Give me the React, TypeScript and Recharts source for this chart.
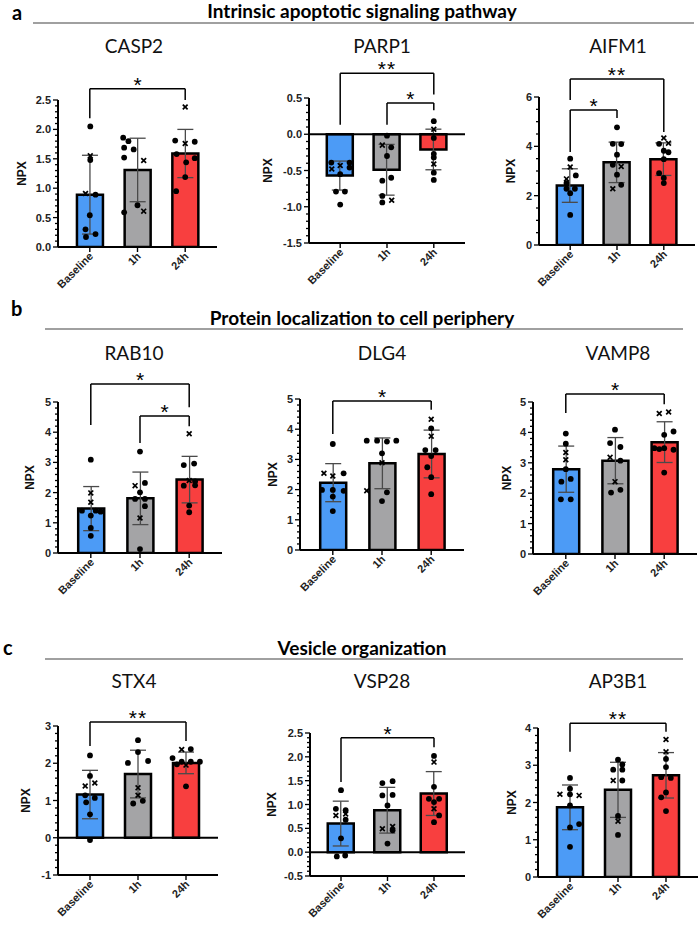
import React from 'react';
import { ComposedChart, Bar, Cell, ErrorBar, Scatter, XAxis, YAxis, ReferenceLine } from 'recharts';

const groups = ['Baseline', '1h', '24h'];
const groupColors = ['#4c9bf6', '#a4a4a6', '#f83f3f'];

const sectionLetters = ['a', 'b', 'c'];
const sectionTitles = [
  'Intrinsic apoptotic signaling pathway',
  'Protein localization to cell periphery',
  'Vesicle organization',
];

// [group index, horizontal jitter, NPX]
type Pt = [number, number, number];
// [from group, to group, bracket level, left foot, right foot, stars]
type Sig = [number, number, number, number, number, string];

// CASP2
const casp2Mean = [0.89, 1.31, 1.59];
const casp2Sd = [0.67, 0.54, 0.41];
const casp2Dots: Pt[] = [
  [0, 0.01, 2.05], [0, 0.01, 1.48], [0, 0.12, 0.89], [0, 0, 0.54], [0, -0.09, 0.3], [0, 0.12, 0.22], [0, -0.08, 0.17],
  [1, -0.3, 1.86], [1, -0.19, 1.8], [1, -0.28, 1.69], [1, -0.08, 1.66], [1, -0.28, 1.52], [1, 0, 0.71], [1, -0.28, 0.59],
  [2, -0.21, 1.81], [2, 0.2, 1.79], [2, -0.18, 1.58], [2, 0.02, 1.44], [2, 0.2, 1.51], [2, 0, 1.19], [2, -0.19, 0.95],
];
const casp2Crosses: Pt[] = [
  [0, 0.01, 1.55], [0, -0.09, 0.91], [1, 0.13, 1.47], [1, 0.13, 0.61], [2, 0, 2.38], [2, 0, 1.76],
];
const casp2Sig: Sig[] = [[0, 2, 2.69, 2.19, 2.5, '*']];

// PARP1
const parp1Mean = [-0.57, -0.49, -0.21];
const parp1Sd = [0.2, 0.35, 0.28];
const parp1Dots: Pt[] = [
  [0, -0.19, -0.39], [0, 0.2, -0.39], [0, 0.2, -0.46], [0, 0, -0.55], [0, -0.09, -0.79], [0, 0.1, -0.79], [0, 0, -0.97],
  [1, 0, -0.02], [1, 0.09, -0.18], [1, 0, -0.3], [1, 0.09, -0.6], [1, -0.1, -0.64], [1, -0.1, -0.85], [1, -0.1, -0.94],
  [2, 0, 0.18], [2, 0, -0.05], [2, 0, -0.27], [2, 0, -0.32], [2, 0, -0.53], [2, 0, -0.63],
];
const parp1Crosses: Pt[] = [
  [0, -0.18, -0.48], [0, 0, -0.43], [1, -0.1, -0.15], [1, 0.1, -0.91], [2, 0, 0.07], [2, 0, -0.41],
];
const parp1Sig: Sig[] = [
  [0, 2, 0.84, 0.13, 0.55, '**'],
  [1, 2, 0.43, 0.13, 0.33, '*'],
];

// AIFM1
const aifm1Mean = [2.41, 3.35, 3.48];
const aifm1Sd = [0.68, 0.82, 0.66];
const aifm1Dots: Pt[] = [
  [0, 0, 3.5], [0, 0.12, 2.82], [0, -0.08, 2.51], [0, -0.08, 2.28], [0, 0.1, 2.28], [0, 0, 2.1], [0, 0, 1.22],
  [1, 0, 4.77], [1, 0.09, 4.09], [1, -0.09, 4.1], [1, 0, 3.66], [1, -0.09, 3.25], [1, 0, 2.85], [1, 0.09, 2.44],
  [2, -0.1, 4.1], [2, 0, 3.82], [2, 0.1, 3.76], [2, 0, 3.48], [2, -0.1, 2.91], [2, 0, 2.72], [2, 0, 2.51],
];
const aifm1Crosses: Pt[] = [
  [0, 0, 3.16], [0, -0.08, 2.68], [1, 0.09, 3.18], [1, -0.09, 2.28], [2, 0, 4.34], [2, 0.1, 4.13],
];
const aifm1Sig: Sig[] = [
  [0, 2, 6.73, 5.88, 4.58, '**'],
  [0, 1, 5.47, 3.77, 5.15, '*'],
];

// RAB10
const rab10Mean = [1.47, 1.81, 2.43];
const rab10Sd = [0.73, 0.87, 0.77];
const rab10Dots: Pt[] = [
  [0, 0, 3.09], [0, -0.18, 1.4], [0, 0.1, 1.4], [0, 0.2, 1.37], [0, 0, 1.24], [0, 0, 0.83], [0, 0, 0.57],
  [1, 0, 3.36], [1, 0.1, 2.32], [1, 0, 2.01], [1, -0.1, 1.79], [1, 0.1, 1.79], [1, 0.1, 1.55], [1, 0, 0.13],
  [2, -0.11, 2.91], [2, 0.1, 2.96], [2, -0.11, 2.23], [2, 0.12, 2.37], [2, 0.12, 2.24], [2, 0, 1.57], [2, 0, 1.35],
];
const rab10Crosses: Pt[] = [
  [0, 0, 1.99], [0, 0, 1.68], [1, -0.1, 2.23], [1, 0, 1.16], [2, 0, 3.95], [2, 0, 2.4],
];
const rab10Sig: Sig[] = [
  [0, 2, 5.6, 4.24, 4.83, '*'],
  [1, 2, 4.54, 3.64, 4.2, '*'],
];

// DLG4
const dlg4Mean = [2.23, 2.87, 3.18];
const dlg4Sd = [0.63, 0.84, 0.79];
const dlg4Dots: Pt[] = [
  [0, 0, 3.51], [0, 0.22, 2.54], [0, -0.22, 1.99], [0, 0, 1.99], [0, 0.22, 1.96], [0, 0, 1.77], [0, 0, 1.29],
  [1, -0.31, 3.62], [1, -0.1, 3.62], [1, 0.1, 3.59], [1, 0.29, 3.62], [1, 0, 3.2], [1, 0.1, 1.91], [1, 0, 1.62],
  [2, 0, 4.03], [2, -0.12, 3.31], [2, 0.09, 3.31], [2, 0, 3.11], [2, -0.08, 2.74], [2, 0, 2.41], [2, 0, 1.85],
];
const dlg4Crosses: Pt[] = [
  [0, -0.18, 2.54], [0, 0, 2.45], [1, -0.31, 1.96], [1, 0, 2.89], [2, 0, 4.33], [2, 0, 3.77],
];
const dlg4Sig: Sig[] = [[0, 2, 4.93, 3.84, 4.64, '*']];

// VAMP8
const vamp8Mean = [2.79, 3.07, 3.68];
const vamp8Sd = [0.76, 0.76, 0.67];
const vamp8Dots: Pt[] = [
  [0, 0, 3.96], [0, 0, 3.63], [0, 0, 2.79], [0, 0.1, 2.47], [0, -0.09, 2.38], [0, -0.1, 1.8], [0, 0.1, 1.8],
  [1, 0, 4.09], [1, -0.1, 3.65], [1, 0.11, 3.52], [1, 0.11, 3.07], [1, -0.08, 2.02], [1, 0.11, 2.11],
  [2, 0, 3.92], [2, 0.19, 4.03], [2, -0.2, 3.48], [2, 0, 3.48], [2, 0.19, 3.43], [2, -0.1, 3.45], [2, 0, 2.68],
];
const vamp8Crosses: Pt[] = [
  [0, 0, 3.34], [0, 0, 3.1], [1, -0.1, 3.18], [1, 0, 2.38], [2, -0.1, 4.62], [2, 0.09, 4.67],
];
const vamp8Sig: Sig[] = [[0, 2, 5.26, 4.64, 4.93, '*']];

// STX4
const stx4Mean = [1.16, 1.71, 2.01];
const stx4Sd = [0.65, 0.64, 0.29];
const stx4Dots: Pt[] = [
  [0, 0, 2.21], [0, 0, 1.66], [0, -0.1, 1.14], [0, 0.1, 1.07], [0, -0.08, 0.95], [0, 0, 0.63], [0, 0, -0.06],
  [1, 0, 2.62], [1, 0, 2.3], [1, -0.21, 2.01], [1, 0.21, 2.06], [1, -0.1, 0.92], [1, 0.1, 0.99],
  [2, -0.28, 2.14], [2, 0.1, 2.38], [2, -0.09, 2.04], [2, 0.1, 2.04], [2, 0.29, 2.04], [2, -0.19, 1.97], [2, 0, 1.38],
];
const stx4Crosses: Pt[] = [
  [0, -0.1, 1.39], [0, 0.1, 1.47], [1, 0, 1.34], [1, 0, 1.14], [2, -0.09, 2.37], [2, 0, 1.95],
];
const stx4Sig: Sig[] = [[0, 2, 3.11, 2.46, 2.6, '**']];

// VSP28
const vsp28Mean = [0.6, 0.88, 1.23];
const vsp28Sd = [0.47, 0.48, 0.46];
const vsp28Dots: Pt[] = [
  [0, 0, 1.3], [0, -0.11, 0.91], [0, 0.1, 0.68], [0, 0, 0.29], [0, -0.09, -0.09], [0, 0.09, -0.07], [0, 0.1, 0.88],
  [1, -0.11, 1.45], [1, 0.11, 1.49], [1, -0.11, 1.19], [1, 0.11, 1.2], [1, 0, 0.98], [1, 0.11, 0.46], [1, 0, 0.18],
  [2, 0, 2.02], [2, 0, 1.37], [2, -0.11, 1.12], [2, 0.11, 1.12], [2, 0, 1.05], [2, 0.11, 0.77], [2, 0, 0.63],
];
const vsp28Crosses: Pt[] = [
  [0, -0.11, 0.77], [0, 0.1, 0.8], [1, -0.11, 0.49], [1, 0.11, 0.54], [2, 0, 1.89], [2, 0, 0.91],
];
const vsp28Sig: Sig[] = [[0, 2, 2.4, 1.47, 2.2, '*']];

// AP3B1
const ap3b1Mean = [1.87, 2.34, 2.73];
const ap3b1Sd = [0.6, 0.74, 0.61];
const ap3b1Dots: Pt[] = [
  [0, 0, 2.66], [0, 0, 2.37], [0, 0, 2.22], [0, 0, 1.92], [0, 0, 1.33], [0, 0.19, 1.42], [0, 0, 0.81],
  [1, 0, 3.15], [1, -0.1, 2.88], [1, 0.09, 3.02], [1, 0.09, 2.88], [1, 0.09, 2.59], [1, 0, 1.64], [1, 0, 1.13],
  [2, 0, 3.17], [2, 0, 2.95], [2, -0.1, 2.68], [2, 0.1, 2.66], [2, 0, 2.27], [2, -0.1, 2.14], [2, 0, 1.77],
];
const ap3b1Crosses: Pt[] = [
  [0, -0.21, 2.22], [0, 0.19, 2.19], [1, -0.1, 2.59], [1, 0, 1.5], [2, 0, 3.69], [2, 0, 3.36],
];
const ap3b1Sig: Sig[] = [[0, 2, 4.13, 3.36, 3.9, '**']];

const AXIS_FONT = '"Liberation Sans", Arial, sans-serif';
const TITLE_FONT = 'Lato, "Open Sans", sans-serif';

const AXW = 52;
const TOPM = 50;
const RM = 6;
const XH = 62;

const ValueTick = (props: any) => {
  const { x, y, payload, majors, decimals } = props;
  const axisX = x + 7;
  const isMajor = majors.some((m: number) => Math.abs(m - payload.value) < 1e-6);
  return (
    <g>
      <line x1={axisX} x2={axisX - (isMajor ? 5 : 3)} y1={y} y2={y} stroke="#000" strokeWidth={1.3} />
      {isMajor && (
        <text x={x} y={y} dy={4} textAnchor="end" fontFamily={AXIS_FONT} fontWeight="bold" fontSize={11} fill="#222">
          {payload.value.toFixed(decimals)}
        </text>
      )}
    </g>
  );
};

const GroupTick = (props: any) => {
  const { x, y, payload } = props;
  const tx = x + 4;
  const ty = y + 3;
  return (
    <text x={tx} y={ty} textAnchor="end" transform={`rotate(-45, ${tx}, ${ty})`}
      fontFamily={AXIS_FONT} fontWeight="bold" fontSize={11} fill="#222">
      {payload.value}
    </text>
  );
};

const DotMark = (props: any) => <circle cx={props.cx} cy={props.cy} r={2.9} fill="#000" />;

const CrossMark = (props: any) => {
  const { cx, cy } = props;
  const s = 2.4;
  return (
    <g stroke="#000" strokeWidth={1.7}>
      <line x1={cx - s} y1={cy - s} x2={cx + s} y2={cy + s} />
      <line x1={cx - s} y1={cy + s} x2={cx + s} y2={cy - s} />
    </g>
  );
};

// stars drawn centred above the bracket bar
const starContent = (stars: string) => (lp: any) => {
  const vb = lp.viewBox || {};
  const cx = (vb.x || 0) + (vb.width || 0) / 2;
  const cy = (vb.y || 0) + 3;
  return (
    <text x={cx} y={cy} textAnchor="middle" fontFamily={AXIS_FONT} fontSize={21} fill="#000"
      letterSpacing={stars.length > 1 ? 1 : 0}>
      {stars}
    </text>
  );
};

interface PanelProps {
  title: string;
  x0: number; yTop: number; plotW: number; plotH: number; npx: number;
  domain: [number, number]; majors: number[]; minor: number; decimals: number;
  mean: number[]; sd: number[]; dots: Pt[]; crosses: Pt[]; sig: Sig[];
  zeroLine?: boolean;
}

function Panel(p: PanelProps) {
  const barData = groups.map((name, i) => ({ name, mean: p.mean[i], sd: p.sd[i] }));
  const dotData = p.dots.map(([g, dx, v]) => ({ x: g + dx, y: v }));
  const crossData = p.crosses.map(([g, dx, v]) => ({ x: g + dx, y: v }));
  const step = p.majors[1] - p.majors[0];
  const ticks: number[] = [];
  p.majors.forEach((m, i) => {
    ticks.push(m);
    if (i < p.majors.length - 1) {
      for (let k = 1; k <= p.minor; k++) ticks.push(+(m + (step * k) / (p.minor + 1)).toFixed(5));
    }
  });
  const pad = p.plotW * 0.05;
  return (
    <div style={{ position: 'absolute', left: p.x0 - AXW, top: p.yTop - TOPM }}>
      <ComposedChart
        width={AXW + p.plotW + RM}
        height={TOPM + p.plotH + XH}
        data={barData}
        margin={{ top: TOPM, right: RM, left: 0, bottom: 0 }}
      >
        <XAxis
          dataKey="name"
          height={XH}
          padding={{ left: pad, right: pad }}
          interval={0}
          axisLine={{ stroke: '#000', strokeWidth: 2 }}
          tickLine={{ stroke: '#000', strokeWidth: 1.4 }}
          tickSize={5}
          tickMargin={2}
          tick={<GroupTick />}
        />
        <XAxis xAxisId="pts" type="number" dataKey="x" domain={[-2 / 3, 8 / 3]} hide allowDataOverflow />
        <YAxis
          type="number"
          domain={p.domain}
          ticks={ticks}
          interval={0}
          width={AXW}
          allowDataOverflow
          axisLine={{ stroke: '#000', strokeWidth: 2 }}
          tickLine={false}
          tickSize={5}
          tickMargin={2}
          tick={<ValueTick majors={p.majors} decimals={p.decimals} />}
          label={{
            content: (lp: any) => {
              const vb = lp.viewBox;
              const cx = vb.x + vb.width - p.npx;
              const cy = vb.y + vb.height / 2;
              return (
                <text x={cx} y={cy} transform={`rotate(-90, ${cx}, ${cy})`} textAnchor="middle"
                  dominantBaseline="central" fontFamily={AXIS_FONT} fontWeight="bold" fontSize={12} fill="#111">
                  NPX
                </text>
              );
            },
          }}
        />
        <Bar dataKey="mean" barSize={26} stroke="#000" strokeWidth={2.5} isAnimationActive={false}>
          {barData.map((d, i) => (
            <Cell key={d.name} fill={groupColors[i]} />
          ))}
          <ErrorBar dataKey="sd" width={8} stroke="#4a4a4a" strokeWidth={1.3} direction="y" />
        </Bar>
        {p.zeroLine && <ReferenceLine y={0} stroke="#000" strokeWidth={2} />}
        <Scatter xAxisId="pts" data={dotData} dataKey="y" shape={DotMark} isAnimationActive={false} />
        <Scatter xAxisId="pts" data={crossData} dataKey="y" shape={CrossMark} isAnimationActive={false} />
        {p.sig.map(([a, b, y, ya, yb, stars], i) => (
          <React.Fragment key={i}>
            <ReferenceLine xAxisId="pts" ifOverflow="visible" stroke="#000" strokeWidth={1.5}
              segment={[{ x: a, y }, { x: b, y }]} label={{ content: starContent(stars) }} />
            <ReferenceLine xAxisId="pts" ifOverflow="visible" stroke="#000" strokeWidth={1.5}
              segment={[{ x: a, y: ya }, { x: a, y }]} />
            <ReferenceLine xAxisId="pts" ifOverflow="visible" stroke="#000" strokeWidth={1.5}
              segment={[{ x: b, y: yb }, { x: b, y }]} />
          </React.Fragment>
        ))}
      </ComposedChart>
    </div>
  );
}

const sectionLayout = [
  { baseline: 18, line: 23, x1: 33, x2: 694, letterX: 12, letterY: 20 },
  { baseline: 325, line: 329, x1: 45, x2: 683, letterX: 11, letterY: 316 },
  { baseline: 655, line: 659, x1: 45, x2: 683, letterX: 3, letterY: 655 },
];
const titleCenters = [134, 382, 618];
const titleBaselines = [53, 360, 688];

const panels: PanelProps[] = [
  { title: 'CASP2', x0: 58, yTop: 100, plotW: 159, plotH: 147, npx: 36, domain: [0, 2.5], majors: [0, 0.5, 1, 1.5, 2, 2.5], minor: 4, decimals: 1,
    mean: casp2Mean, sd: casp2Sd, dots: casp2Dots, crosses: casp2Crosses, sig: casp2Sig },
  { title: 'PARP1', x0: 309, yTop: 98, plotW: 156, plotH: 145, npx: 41, domain: [-1.5, 0.5], majors: [-1.5, -1, -0.5, 0, 0.5], minor: 4, decimals: 1,
    mean: parp1Mean, sd: parp1Sd, dots: parp1Dots, crosses: parp1Crosses, sig: parp1Sig, zeroLine: true },
  { title: 'AIFM1', x0: 539, yTop: 97, plotW: 156, plotH: 148, npx: 28, domain: [0, 6], majors: [0, 2, 4, 6], minor: 3, decimals: 0,
    mean: aifm1Mean, sd: aifm1Sd, dots: aifm1Dots, crosses: aifm1Crosses, sig: aifm1Sig },
  { title: 'RAB10', x0: 58, yTop: 402, plotW: 164, plotH: 151, npx: 28, domain: [0, 5], majors: [0, 1, 2, 3, 4, 5], minor: 4, decimals: 0,
    mean: rab10Mean, sd: rab10Sd, dots: rab10Dots, crosses: rab10Crosses, sig: rab10Sig },
  { title: 'DLG4', x0: 300, yTop: 399, plotW: 164, plotH: 151, npx: 27, domain: [0, 5], majors: [0, 1, 2, 3, 4, 5], minor: 4, decimals: 0,
    mean: dlg4Mean, sd: dlg4Sd, dots: dlg4Dots, crosses: dlg4Crosses, sig: dlg4Sig },
  { title: 'VAMP8', x0: 533, yTop: 402, plotW: 164, plotH: 152, npx: 26, domain: [0, 5], majors: [0, 1, 2, 3, 4, 5], minor: 4, decimals: 0,
    mean: vamp8Mean, sd: vamp8Sd, dots: vamp8Dots, crosses: vamp8Crosses, sig: vamp8Sig },
  { title: 'STX4', x0: 58, yTop: 726, plotW: 160, plotH: 149, npx: 32, domain: [-1, 3], majors: [-1, 0, 1, 2, 3], minor: 4, decimals: 0,
    mean: stx4Mean, sd: stx4Sd, dots: stx4Dots, crosses: stx4Crosses, sig: stx4Sig, zeroLine: true },
  { title: 'VSP28', x0: 310, yTop: 733, plotW: 155, plotH: 143, npx: 38, domain: [-0.5, 2.5], majors: [-0.5, 0, 0.5, 1, 1.5, 2, 2.5], minor: 4, decimals: 1,
    mean: vsp28Mean, sd: vsp28Sd, dots: vsp28Dots, crosses: vsp28Crosses, sig: vsp28Sig, zeroLine: true },
  { title: 'AP3B1', x0: 538, yTop: 728, plotW: 160, plotH: 149, npx: 26, domain: [0, 4], majors: [0, 1, 2, 3, 4], minor: 4, decimals: 0,
    mean: ap3b1Mean, sd: ap3b1Sd, dots: ap3b1Dots, crosses: ap3b1Crosses, sig: ap3b1Sig },
];

export default function App() {
  return (
    <div style={{ position: 'absolute', left: 0, top: 0, width: 700, height: 927, background: '#fff' }}>
      <svg width={700} height={927} style={{ position: 'absolute', left: 0, top: 0 }}>
        {sectionLayout.map((s, i) => (
          <g key={i}>
            <text x={s.letterX} y={s.letterY} fontFamily={TITLE_FONT} fontWeight="bold" fontSize={20} fill="#000">
              {sectionLetters[i]}
            </text>
            <text x={362} y={s.baseline} textAnchor="middle" fontFamily={TITLE_FONT} fontWeight="bold" fontSize={19} fill="#000">
              {sectionTitles[i]}
            </text>
            <line x1={s.x1} x2={s.x2} y1={s.line} y2={s.line} stroke="#808080" strokeWidth={1.3} />
          </g>
        ))}
        {panels.map((p, i) => (
          <text key={p.title} x={titleCenters[i % 3]} y={titleBaselines[Math.floor(i / 3)]} textAnchor="middle"
            fontFamily={TITLE_FONT} fontSize={19} fill="#111">
            {p.title}
          </text>
        ))}
      </svg>
      {panels.map((p) => (
        <Panel key={p.title} {...p} />
      ))}
    </div>
  );
}
